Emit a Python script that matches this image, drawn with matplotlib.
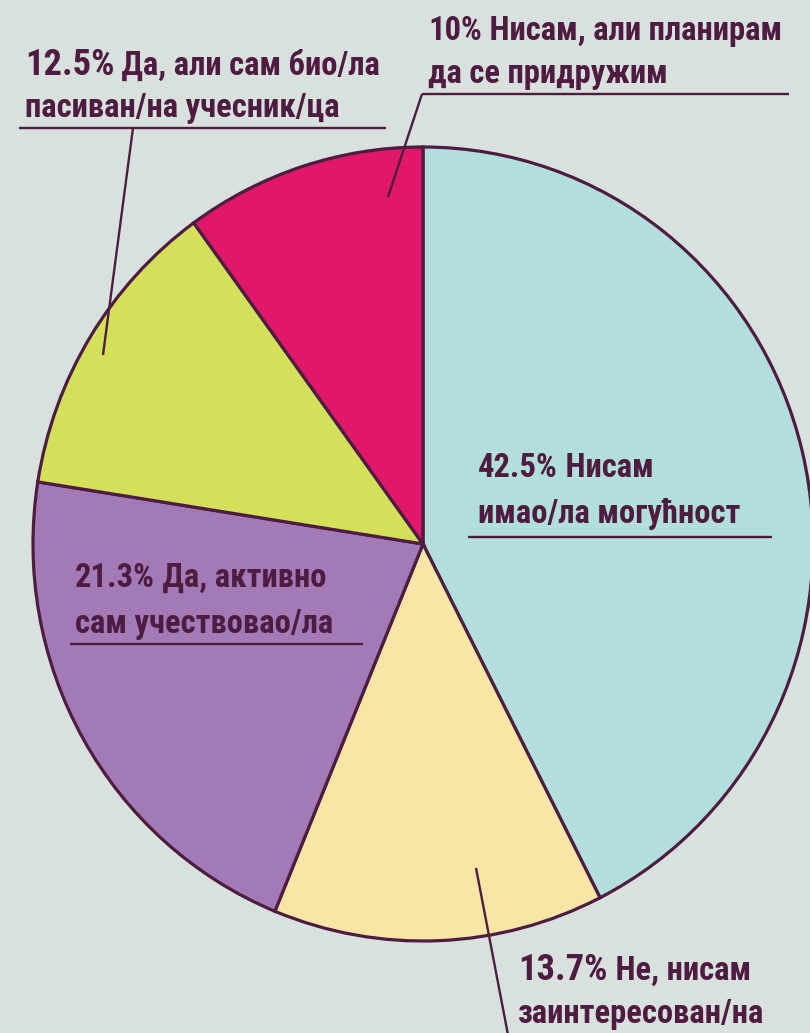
import matplotlib
matplotlib.use("Agg")
import matplotlib.pyplot as plt
from matplotlib import font_manager as fm

# ---- data ----
labels = ["Нисам имао/ла могућност", "Не, нисам заинтересован/на",
          "Да, активно сам учествовао/ла", "Да, али сам био/ла пасиван/на учесник/ца",
          "Нисам, али планирам да се придружим"]
values = [42.5, 13.7, 21.3, 12.5, 10.0]
pct_text = ["42.5%", "13.7%", "21.3%", "12.5%", "10%"]
colors = ["#b2dfdc", "#f9e6a6", "#a27ab5", "#d4e05a", "#e0176a"]

BG = "#d8e1de"
INK = "#4e1c40"
W, H = 810, 1033

names = {f.name for f in fm.fontManager.ttflist}
family = "DejaVu Sans"
stretch = "normal"
for cand in ["Roboto Condensed", "Liberation Sans Narrow", "DejaVu Sans Condensed"]:
    if cand in names:
        family = cand
        break
else:
    stretch = "condensed"

fig = plt.figure(figsize=(W / 100, H / 100), dpi=100)
fig.patch.set_facecolor(BG)

# pie axes (slightly taller than wide, as in the reference)
cx, cy, rx, ry = 423, 544, 390, 397
pax = fig.add_axes([(cx - rx) / W, (H - cy - ry) / H, 2 * rx / W, 2 * ry / H])
pax.set_facecolor("none")
wedges, _ = pax.pie(values, colors=colors, startangle=90, counterclock=False,
                    radius=1, wedgeprops=dict(edgecolor=INK, linewidth=2.3))
for w in wedges:
    w.set_clip_on(False)
pax.set_xlim(-1, 1)
pax.set_ylim(-1, 1)
pax.set_aspect("auto")
pax.axis("off")

# overlay axes in pixel coordinates for labels
ax = fig.add_axes([0, 0, 1, 1])
ax.set_facecolor("none")
ax.set_xlim(0, W)
ax.set_ylim(0, H)
ax.axis("off")

def fy(y):
    return H - y

renderer = fig.canvas.get_renderer()
BASE = 23.5
BIG = BASE * 1.12

def put(x, y, parts):
    """parts: list of (text, size). baseline-aligned run of text at pixel (x, y-from-top)."""
    px = x
    for txt, size in parts:
        t = ax.text(px, fy(y), txt, fontsize=size, fontweight=800, color=INK,
                    family=family, fontstretch=stretch, va="baseline", ha="left")
        bb = t.get_window_extent(renderer)
        px += bb.width

def line(xs, ys):
    ax.plot(xs, [fy(v) for v in ys], color=INK, lw=1.7, solid_capstyle="butt")

# 10% label
put(428, 40, [(pct_text[4], BASE), (" Нисам, али планирам", BASE)])
put(428, 83, [("да се придружим", BASE)])
line([422, 789], [94, 94])
line([422, 388], [94, 197])

# 12.5% label
put(25, 75, [(pct_text[3], BIG), (" Да, али сам био/ла", BASE)])
put(25, 117, [("пасиван/на учесник/ца", BASE)])
line([19, 386], [128, 128])
line([133, 103], [128, 355])

# 42.5% label
put(478, 477, [(pct_text[0], BASE), (" Нисам", BASE)])
put(478, 523, [("имао/ла могућност", BASE)])
line([468, 772], [537, 537])

# 21.3% label
put(75, 587, [(pct_text[2], BASE), (" Да, активно", BASE)])
put(75, 633, [("сам учествовао/ла", BASE)])
line([70, 363], [644, 644])

# 13.7% label
put(518, 980, [(pct_text[1], BIG), (" Не, нисам", BASE)])
put(518, 1023, [("заинтересован/на", BASE)])
line([476, 509], [868, 1040])

fig.savefig("out.png", dpi=100, facecolor=BG)
